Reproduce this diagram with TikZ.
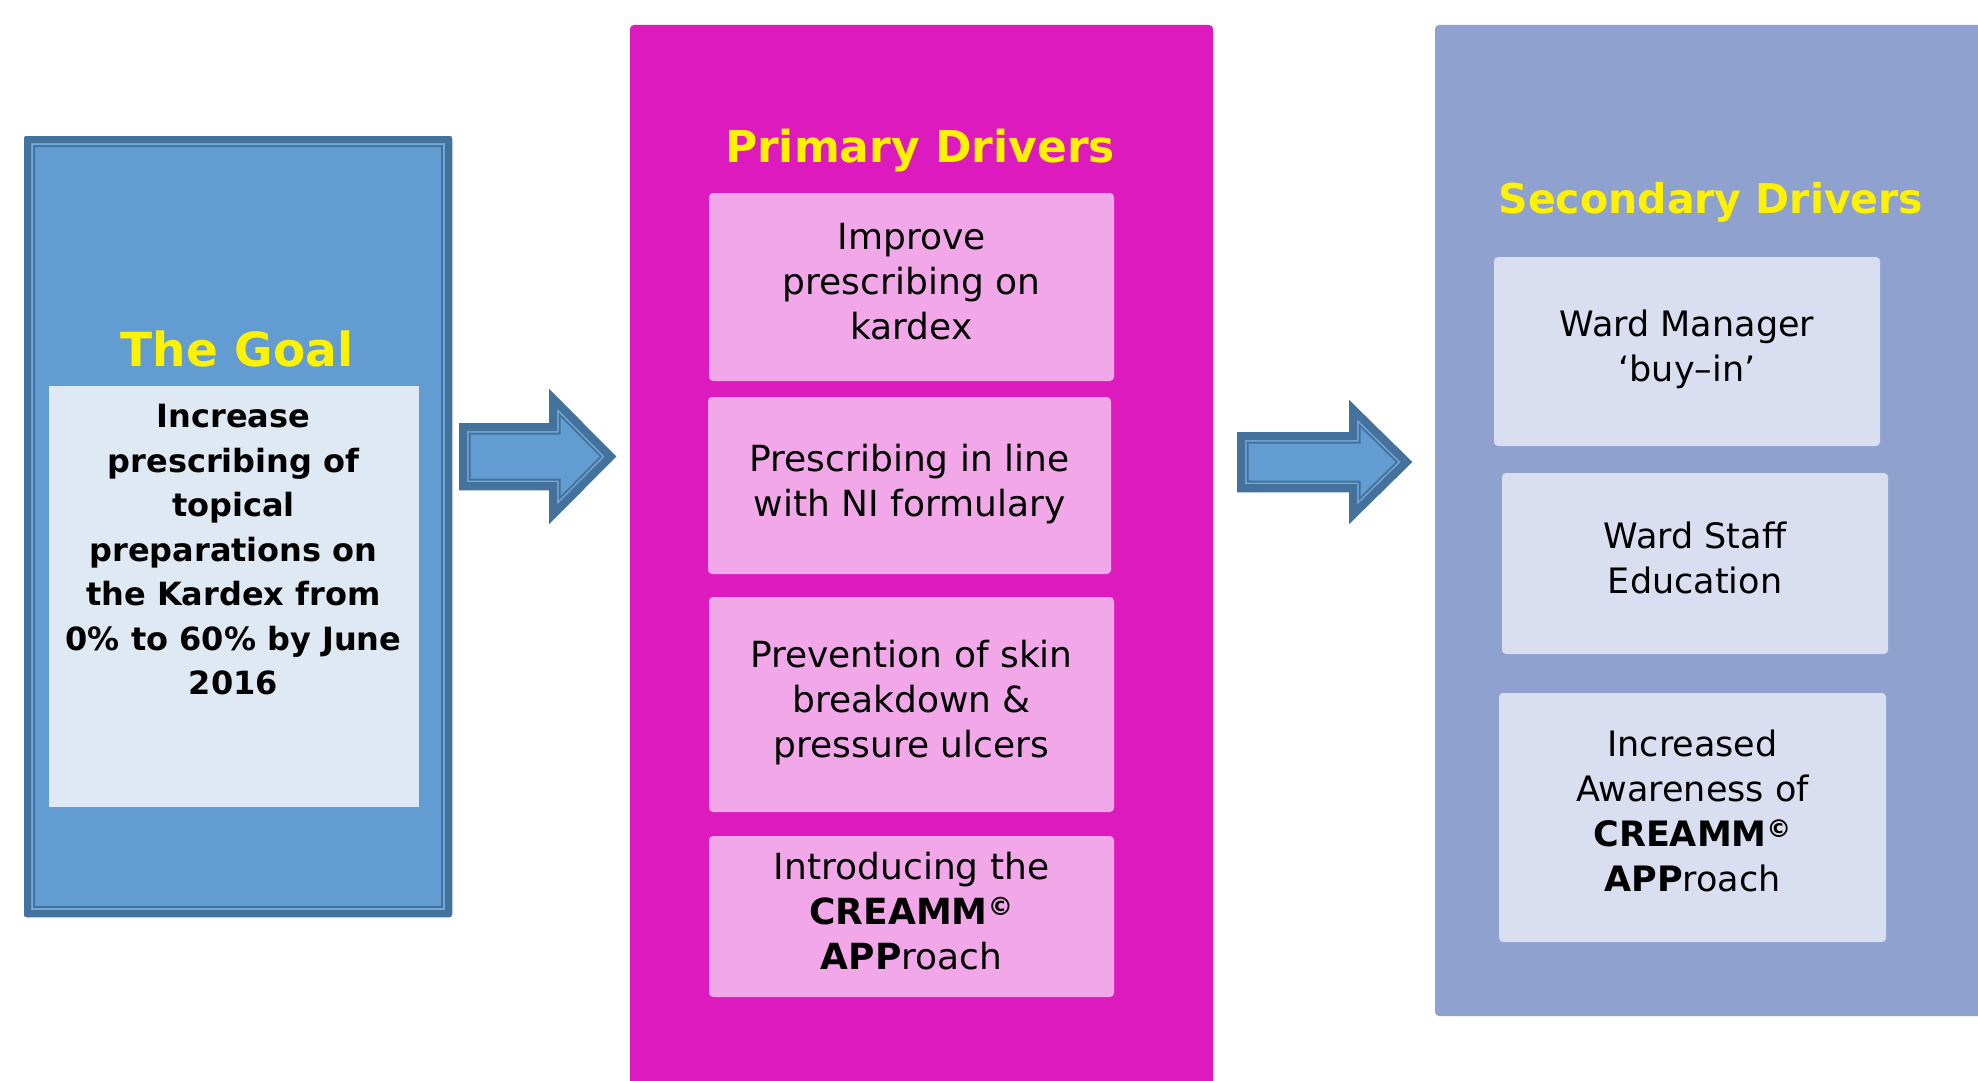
\documentclass[tikz,border=0pt]{standalone}
\usepackage{fontspec}
\setmainfont{DejaVu Sans}
\usetikzlibrary{calc}

\definecolor{goalblue}{RGB}{98,156,208}
\definecolor{goalband}{RGB}{112,168,218}
\definecolor{goaldark}{RGB}{68,114,156}
\definecolor{goalwhite}{RGB}{223,233,244}
\definecolor{primpink}{RGB}{221,26,190}
\definecolor{primlight}{RGB}{242,168,232}
\definecolor{secpanel}{RGB}{143,162,207}
\definecolor{seclight}{RGB}{217,222,240}

\newcommand{\boxround}{4pt}
\tikzset{panel/.style={rectangle, rounded corners=\boxround, anchor=north west, inner sep=0pt, outer sep=0pt},
  drvbox/.style={panel, align=center, text depth=11pt, font=\fontsize{36}{45}\selectfont},
  primbox/.style={drvbox, fill=primlight},
  secbox/.style={drvbox, fill=seclight, font=\fontsize{35}{45}\selectfont},
  drvtitle/.style={anchor=base, inner sep=0pt, text=yellow, font=\bfseries\fontsize{44}{50}\selectfont}}

% outline of a block arrow: start, tip, half shaft, half head, head length
\newcommand{\arrowoutline}[5]{(#1) ++(0,-#3) -- ($(#2)+(-#5,-#3)$) -- ($(#2)+(-#5,-#4)$) -- (#2) -- ($(#2)+(-#5,#4)$) -- ($(#2)+(-#5,#3)$) -- ($(#1)+(0,#3)$) -- cycle}
\newcommand{\blockarrow}[5]{%
  \fill[goalblue] \arrowoutline{#1}{#2}{#3}{#4}{#5};
  \begin{scope}[line join=miter]
    \clip \arrowoutline{#1}{#2}{#3}{#4}{#5};
    \draw[goaldark, line width=23pt] \arrowoutline{#1}{#2}{#3}{#4}{#5};
    \draw[goalband, line width=19pt] \arrowoutline{#1}{#2}{#3}{#4}{#5};
    \draw[goaldark, line width=16pt] \arrowoutline{#1}{#2}{#3}{#4}{#5};
  \end{scope}}

\begin{document}
\begin{tikzpicture}[x=1pt, y=-1pt]
\useasboundingbox (0,0) rectangle (1978,1081);
\clip (0,0) rectangle (1978,1081);

% goal
\node[panel, rounded corners=2.5pt, fill=goalblue, minimum width=428pt, minimum height=781pt] (goal) at (24,136) {};
\begin{scope}[rounded corners=2.5pt]
\clip (goal.north west) rectangle (goal.south east);
\draw[goaldark, line width=22pt] (goal.north west) rectangle (goal.south east);
\draw[goalband, line width=18pt] (goal.north west) rectangle (goal.south east);
\draw[goaldark, line width=14pt] (goal.north west) rectangle (goal.south east);
\end{scope}
\node[panel, rounded corners=0pt, fill=goalwhite, minimum width=370pt, minimum height=421pt] (goalbox) at (49,386) {};
\node[drvtitle, font=\bfseries\fontsize{47}{55}\selectfont] (goaltitle) at (237,366) {The Goal};
\node[anchor=north, inner sep=0pt, align=center, font=\bfseries\fontsize{32}{44.5}\selectfont] (goaltext) at (233.5,404) {Increase\\prescribing of\\topical\\preparations on\\the Kardex from\\0\% to 60\% by June\\2016};

% primary drivers
\node[panel, fill=primpink, minimum width=583pt, minimum height=1100pt] (primary) at (630,25) {};
\node[drvtitle] (primtitle) at (920,162) {Primary Drivers};
\node[primbox, minimum width=405pt, minimum height=188pt] (p1) at (709,193) {Improve\\prescribing on\\kardex};
\node[primbox, minimum width=403pt, minimum height=177pt] (p2) at (708,397) {Prescribing in line\\with NI formulary};
\node[primbox, minimum width=405pt, minimum height=215pt] (p3) at (709,597) {Prevention of skin\\breakdown \&\\pressure ulcers};
\node[primbox, minimum width=405pt, minimum height=161pt] (p4) at (709,836) {Introducing the\\\textbf{CREAMM\textsuperscript{©}}\\\textbf{APP}roach};

% secondary drivers
\node[panel, fill=secpanel, minimum width=600pt, minimum height=991pt] (secondary) at (1435,25) {};
\node[drvtitle, font=\bfseries\fontsize{41}{50}\selectfont] (sectitle) at (1711,213) {Secondary Drivers};
\node[secbox, minimum width=386pt, minimum height=189pt] (s1) at (1494,257) {Ward Manager\\‘buy–in’};
\node[secbox, minimum width=386pt, minimum height=181pt] (s2) at (1502,473) {Ward Staff\\Education};
\node[secbox, minimum width=387pt, minimum height=249pt, text depth=14pt] (s3) at (1499,693) {Increased\\Awareness of\\\textbf{CREAMM\textsuperscript{©}}\\\textbf{APP}roach};

% arrows between the columns
\coordinate (a1) at (459,456.5); \coordinate (a1tip) at (616,456.5);
\coordinate (a2) at (1237,462); \coordinate (a2tip) at (1412,462);
\blockarrow{a1}{a1tip}{33.5}{67.5}{67}
\blockarrow{a2}{a2tip}{30}{62}{63}

\end{tikzpicture}
\end{document}
